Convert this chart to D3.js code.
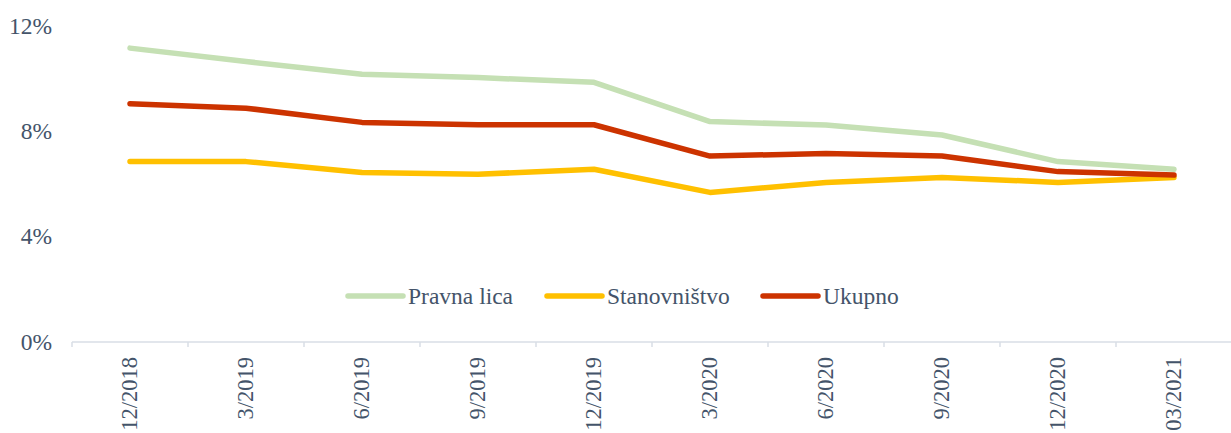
<!DOCTYPE html>
<html>
<head>
<meta charset="utf-8">
<script src="https://cdn.jsdelivr.net/npm/d3@7"></script>
<style>
  html, body { margin: 0; padding: 0; background: #fff; }
  svg { display: block; }
  svg text { font-family: "Liberation Serif", "Times New Roman", serif; }
</style>
</head>
<body>
<svg id="chart" width="1231" height="433"></svg>
<script>
const categories = ["12/2018","3/2019","6/2019","9/2019","12/2019","3/2020","6/2020","9/2020","12/2020","03/2021"];
const pravnaLica   = [11.16, 10.65, 10.17, 10.04, 9.86, 8.37, 8.24, 7.86, 6.85, 6.56];
const stanovnistvo = [6.85, 6.85, 6.44, 6.37, 6.56, 5.68, 6.06, 6.25, 6.06, 6.25];
const ukupno       = [9.05, 8.88, 8.34, 8.25, 8.25, 7.06, 7.16, 7.06, 6.47, 6.34];
const seriesNames  = ["Pravna lica", "Stanovništvo", "Ukupno"];
const yTicks = [0, 4, 8, 12];

const colors = ["#C5E0B4", "#FFC000", "#CC3300"];
const textColor = "#44546A";

const svg = d3.select("#chart");
const x = d3.scaleBand().domain(categories).range([72, 1232]);
const y = d3.scaleLinear().domain([0, 12]).range([342, 26]);

// Y labels
svg.append("g").selectAll("text").data(yTicks).join("text")
  .attr("x", 52).attr("y", d => y(d))
  .attr("text-anchor", "end").attr("dy", "0.33em")
  .attr("font-size", 23.5).attr("fill", textColor)
  .text(d => d + "%");

// X axis
const xAxis = svg.append("g").attr("transform", "translate(0,342)");
xAxis.append("line").attr("x1", 72).attr("x2", 1231).attr("y1", 0).attr("y2", 0)
  .attr("stroke", "#D9DEE6").attr("stroke-width", 1.5);
const bounds = categories.map(c => x(c)).concat([x(categories[categories.length-1]) + x.bandwidth()]);
xAxis.selectAll("line.tick").data(bounds).join("line").attr("class", "tick")
  .attr("x1", d => d).attr("x2", d => d).attr("y1", 0).attr("y2", 5)
  .attr("stroke", "#D9DEE6").attr("stroke-width", 1.5);
xAxis.selectAll("text").data(categories).join("text")
  .attr("transform", d => `translate(${x(d) + x.bandwidth()/2},15) rotate(-90)`)
  .attr("text-anchor", "end").attr("dy", "0.33em")
  .attr("font-size", 22.5).attr("fill", textColor)
  .text(d => d);

// Lines
const allSeries = [pravnaLica, stanovnistvo, ukupno];
const line = d3.line().x((d, i) => x(categories[i]) + x.bandwidth()/2).y(d => y(d));
svg.append("g").selectAll("path").data(allSeries).join("path")
  .attr("d", d => line(d))
  .attr("fill", "none")
  .attr("stroke", (d, i) => colors[i])
  .attr("stroke-width", 5.5)
  .attr("stroke-linecap", "round")
  .attr("stroke-linejoin", "round");

// Legend
const legendX = [348, 547, 763];
const lg = svg.append("g").selectAll("g").data(seriesNames).join("g")
  .attr("transform", (d, i) => `translate(${legendX[i]},296)`);
lg.append("line").attr("x1", 0).attr("x2", 55).attr("y1", 0).attr("y2", 0)
  .attr("stroke", (d, i) => colors[i]).attr("stroke-width", 5.5).attr("stroke-linecap", "round");
lg.append("text").attr("x", 60).attr("y", 0).attr("dy", "0.33em")
  .attr("font-size", 23.5).attr("fill", textColor)
  .text(d => d);
</script>
</body>
</html>
